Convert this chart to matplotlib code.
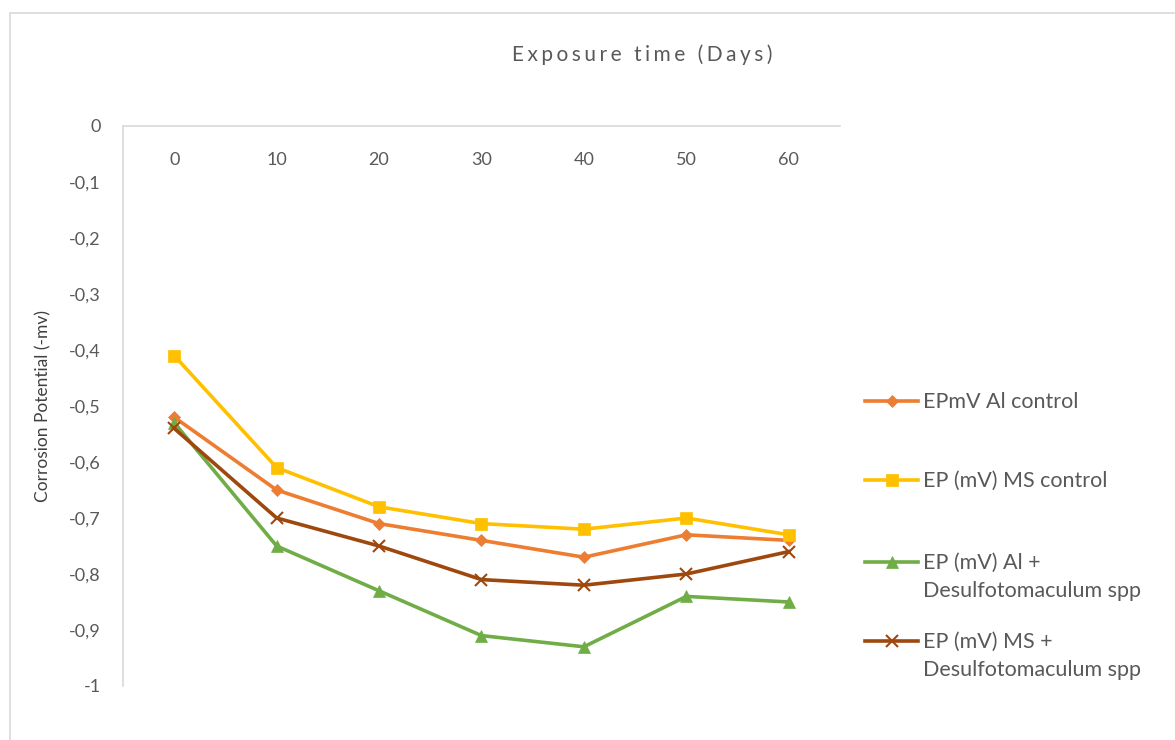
import matplotlib.pyplot as plt
from matplotlib.lines import Line2D
from matplotlib.patches import Rectangle

plt.rcParams['font.family'] = ['Lato', 'DejaVu Sans']

# datos
days = [0, 10, 20, 30, 40, 50, 60]
al_control = [-0.52, -0.65, -0.71, -0.74, -0.77, -0.73, -0.74]
ms_control = [-0.41, -0.61, -0.68, -0.71, -0.72, -0.70, -0.73]
al_desulfo = [-0.53, -0.75, -0.83, -0.91, -0.93, -0.84, -0.85]
ms_desulfo = [-0.54, -0.70, -0.75, -0.81, -0.82, -0.80, -0.76]
y_ticks = [0, -0.1, -0.2, -0.3, -0.4, -0.5, -0.6, -0.7, -0.8, -0.9, -1]

series = [
    ('EPmV Al control', al_control, '#ED7D31', 'D', 6),
    ('EP (mV) MS control', ms_control, '#FFC000', 's', 8),
    ('EP (mV) Al +\nDesulfotomaculum spp', al_desulfo, '#70AD47', '^', 8),
    ('EP (mV) MS +\nDesulfotomaculum spp', ms_desulfo, '#9E480E', 'x', 8),
]

txt = '#595959'
grey = '#D9D9D9'

fig = plt.figure(figsize=(11.75, 7.4), dpi=100)
W, H = 1175, 740
fig.patches.append(Rectangle((10 / W, -0.1), 1.2, 1 - 13 / H + 0.1, transform=fig.transFigure,
                             fill=False, edgecolor=grey, linewidth=1.2))

ax = fig.add_axes([123 / W, 1 - 686 / H, (840 - 123) / W, (686 - 126) / H])
xs = list(range(len(days)))
for name, vals, col, mk, ms in series:
    ax.plot(xs, vals, color=col, linewidth=2.6, marker=mk, markersize=ms,
            markeredgewidth=1.5 if mk == 'x' else 0.5, markeredgecolor=col)

ax.set_xlim(-0.5, len(days) - 0.5)
ax.set_ylim(-1, 0)
ax.set_yticks(y_ticks)
ax.set_yticklabels([('%g' % v).replace('.', ',') for v in y_ticks])
ax.xaxis.tick_top()
ax.set_xticks(xs)
ax.set_xticklabels([str(d) for d in days])
ax.tick_params(axis='x', length=0, pad=-30, labelsize=13, labelcolor=txt)
ax.tick_params(axis='y', length=0, pad=16, labelsize=13, labelcolor=txt)
for s in ['right', 'bottom']:
    ax.spines[s].set_visible(False)
for s in ['left', 'top']:
    ax.spines[s].set_color(grey)
    ax.spines[s].set_linewidth(1.2)

ax.set_ylabel('Corrosion Potential (-mv)', fontsize=12.5, color='#404040')
ax.yaxis.set_label_coords(-0.1, 0.5)

# titulo con espaciado entre letras
fig.text(642 / W, 1 - 55 / H, '\u2006'.join('Exposure time (Days)'), ha='center', va='center',
         fontsize=15, color=txt)

# leyenda
leg_y = [401, 480, 562, 641]
for (name, vals, col, mk, ms), yy in zip(series, leg_y):
    y = 1 - yy / H
    fig.add_artist(Line2D([865 / W, 918 / W], [y, y], color=col, linewidth=2.6,
                          transform=fig.transFigure))
    fig.add_artist(Line2D([891.5 / W], [y], color=col, marker=mk, markersize=ms,
                          markeredgewidth=1.5 if mk == 'x' else 0.5, markeredgecolor=col,
                          transform=fig.transFigure))
    for i, line in enumerate(name.split('\n')):
        fig.text(923 / W, y - (1 + i * 28) / H, line, ha='left', va='center',
                 fontsize=15.5, color=txt)

fig.savefig('out.png', dpi=100)
